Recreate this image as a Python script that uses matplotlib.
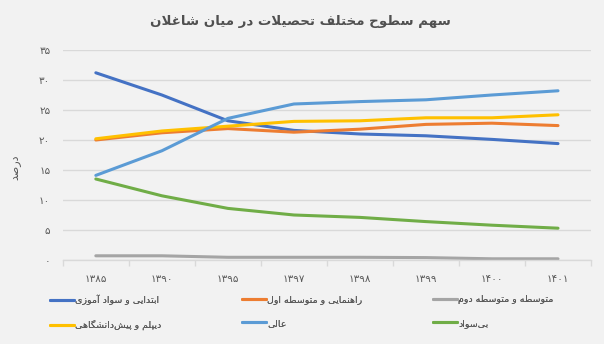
import matplotlib
matplotlib.use("Agg")
import matplotlib.pyplot as plt

# --- data -------------------------------------------------------------
years = ["۱۳۸۵", "۱۳۹۰", "۱۳۹۵", "۱۳۹۷", "۱۳۹۸", "۱۳۹۹", "۱۴۰۰", "۱۴۰۱"]
y_ticks = [0, 5, 10, 15, 20, 25, 30, 35]
y_tick_labels = ["۰", "۵", "۱۰", "۱۵", "۲۰", "۲۵", "۳۰", "۳۵"]

primary = [31.2, 27.5, 23.2, 21.6, 21.0, 20.7, 20.1, 19.4]
guidance = [20.0, 21.2, 21.9, 21.3, 21.8, 22.6, 22.8, 22.4]
secondary = [0.7, 0.7, 0.45, 0.45, 0.45, 0.4, 0.2, 0.2]
diploma = [20.2, 21.5, 22.3, 23.1, 23.2, 23.7, 23.7, 24.2]
higher = [14.1, 18.2, 23.6, 26.0, 26.4, 26.7, 27.5, 28.2]
illiterate = [13.5, 10.7, 8.6, 7.5, 7.1, 6.4, 5.8, 5.3]

series_names = [
    "ابتدایی و سواد آموزی",
    "راهنمایی و متوسطه اول",
    "متوسطه و متوسطه دوم",
    "دیپلم و پیش\u200cدانشگاهی",
    "عالی",
    "بی\u200cسواد",
]
series_values = [primary, guidance, secondary, diploma, higher, illiterate]
series_colors = ["#4472C4", "#ED7D31", "#A5A5A5", "#FFC000", "#5B9BD5", "#70AD47"]

title = "سهم سطوح مختلف تحصیلات در میان شاغلان"
y_label = "درصد"

# --- minimal Arabic/Persian shaping (matplotlib has no RTL layout) -----
FORMS = {
    "\u0622": ("\uFE81", "\uFE82"),
    "\u0627": ("\uFE8D", "\uFE8E"),
    "\u0628": ("\uFE8F", "\uFE90", "\uFE91", "\uFE92"),
    "\u0629": ("\uFE93", "\uFE94"),
    "\u062A": ("\uFE95", "\uFE96", "\uFE97", "\uFE98"),
    "\u062B": ("\uFE99", "\uFE9A", "\uFE9B", "\uFE9C"),
    "\u062C": ("\uFE9D", "\uFE9E", "\uFE9F", "\uFEA0"),
    "\u062D": ("\uFEA1", "\uFEA2", "\uFEA3", "\uFEA4"),
    "\u062E": ("\uFEA5", "\uFEA6", "\uFEA7", "\uFEA8"),
    "\u062F": ("\uFEA9", "\uFEAA"),
    "\u0630": ("\uFEAB", "\uFEAC"),
    "\u0631": ("\uFEAD", "\uFEAE"),
    "\u0632": ("\uFEAF", "\uFEB0"),
    "\u0633": ("\uFEB1", "\uFEB2", "\uFEB3", "\uFEB4"),
    "\u0634": ("\uFEB5", "\uFEB6", "\uFEB7", "\uFEB8"),
    "\u0635": ("\uFEB9", "\uFEBA", "\uFEBB", "\uFEBC"),
    "\u0636": ("\uFEBD", "\uFEBE", "\uFEBF", "\uFEC0"),
    "\u0637": ("\uFEC1", "\uFEC2", "\uFEC3", "\uFEC4"),
    "\u0638": ("\uFEC5", "\uFEC6", "\uFEC7", "\uFEC8"),
    "\u0639": ("\uFEC9", "\uFECA", "\uFECB", "\uFECC"),
    "\u063A": ("\uFECD", "\uFECE", "\uFECF", "\uFED0"),
    "\u0641": ("\uFED1", "\uFED2", "\uFED3", "\uFED4"),
    "\u0642": ("\uFED5", "\uFED6", "\uFED7", "\uFED8"),
    "\u0643": ("\uFED9", "\uFEDA", "\uFEDB", "\uFEDC"),
    "\u0644": ("\uFEDD", "\uFEDE", "\uFEDF", "\uFEE0"),
    "\u0645": ("\uFEE1", "\uFEE2", "\uFEE3", "\uFEE4"),
    "\u0646": ("\uFEE5", "\uFEE6", "\uFEE7", "\uFEE8"),
    "\u0647": ("\uFEE9", "\uFEEA", "\uFEEB", "\uFEEC"),
    "\u0648": ("\uFEED", "\uFEEE"),
    "\u0649": ("\uFEEF", "\uFEF0"),
    "\u064A": ("\uFEF1", "\uFEF2", "\uFEF3", "\uFEF4"),
    "\u067E": ("\uFB56", "\uFB57", "\uFB58", "\uFB59"),
    "\u0686": ("\uFB7A", "\uFB7B", "\uFB7C", "\uFB7D"),
    "\u0698": ("\uFB8A", "\uFB8B"),
    "\u06A9": ("\uFB8E", "\uFB8F", "\uFB90", "\uFB91"),
    "\u06AF": ("\uFB92", "\uFB93", "\uFB94", "\uFB95"),
    "\u06CC": ("\uFBFC", "\uFBFD", "\uFBFE", "\uFBFF"),
}
LAM_ALEF = {"\u0627": ("\uFEFB", "\uFEFC"), "\u0622": ("\uFEF5", "\uFEF6")}


def fa(text):
    def dual(c):
        return c in FORMS and len(FORMS[c]) == 4

    out = []
    i, n = 0, len(text)
    while i < n:
        c = text[i]
        if c not in FORMS:
            if c != "\u200c":
                out.append(c)
            i += 1
            continue
        link_prev = i > 0 and dual(text[i - 1])
        if c == "\u0644" and i + 1 < n and text[i + 1] in LAM_ALEF:
            lig = LAM_ALEF[text[i + 1]]
            out.append(lig[1] if link_prev else lig[0])
            i += 2
            continue
        link_next = dual(c) and i + 1 < n and text[i + 1] in FORMS
        forms = FORMS[c]
        if link_prev and link_next:
            out.append(forms[3])
        elif link_prev:
            out.append(forms[1])
        elif link_next:
            out.append(forms[2])
        else:
            out.append(forms[0])
        i += 1
    return "".join(reversed(out))


# --- figure -----------------------------------------------------------
plt.rcParams["font.family"] = ["DejaVu Sans"]
bg = "#F2F2F2"
text_color = "#595959"

fig = plt.figure(figsize=(6.04, 3.44), dpi=100, facecolor=bg)
ax = fig.add_axes([0.104, 0.2442, 0.8745, 0.6105], facecolor=bg)

x = list(range(len(years)))
lines = []
for name, values, color in zip(series_names, series_values, series_colors):
    (ln,) = ax.plot(x, values, color=color, linewidth=2.2, label=fa(name),
                    solid_capstyle="round", solid_joinstyle="round")
    lines.append(ln)

ax.set_xlim(-0.5, len(years) - 0.5)
ax.set_ylim(0, 35)
ax.set_yticks(y_ticks)
ax.set_yticklabels(y_tick_labels)
ax.set_xticks(x)
ax.set_xticklabels(years)
ax.set_xticks([i - 0.5 for i in range(len(years) + 1)], minor=True)

ax.grid(axis="y", color="#D9D9D9", linewidth=1.0)
ax.set_axisbelow(True)
for side in ["top", "right", "left"]:
    ax.spines[side].set_visible(False)
ax.spines["bottom"].set_color("#D9D9D9")
ax.spines["bottom"].set_linewidth(1.0)

ax.tick_params(axis="y", length=0, pad=9, labelsize=7.5, labelcolor=text_color)
ax.tick_params(axis="x", which="major", length=0, pad=10, labelsize=7.5,
               labelcolor=text_color)
ax.tick_params(axis="x", which="minor", length=4, color="#D9D9D9", width=1.0)

fig.text(0.498, 0.937, fa(title), ha="center", va="center", fontsize=9.6,
         fontweight="bold", color="#505050")
fig.text(0.025, 0.515, fa(y_label), ha="center", va="center", rotation=90,
         fontsize=8, color=text_color)

# legend: three columns of two entries each, placed side by side
column_x = [50, 242, 433]
for col, left in enumerate(column_x):
    pair = [lines[col], lines[col + 3]]
    leg = fig.legend(pair, [ln.get_label() for ln in pair], ncol=1,
                     loc="upper left", bbox_to_anchor=(left / 604, 1 - 295 / 344),
                     frameon=False, fontsize=6.8, labelcolor=text_color,
                     handlelength=2.5, handletextpad=0.15,
                     borderaxespad=0, borderpad=0, labelspacing=1.55)
    fig.add_artist(leg)

fig.savefig("out.png", dpi=100, facecolor=bg)
